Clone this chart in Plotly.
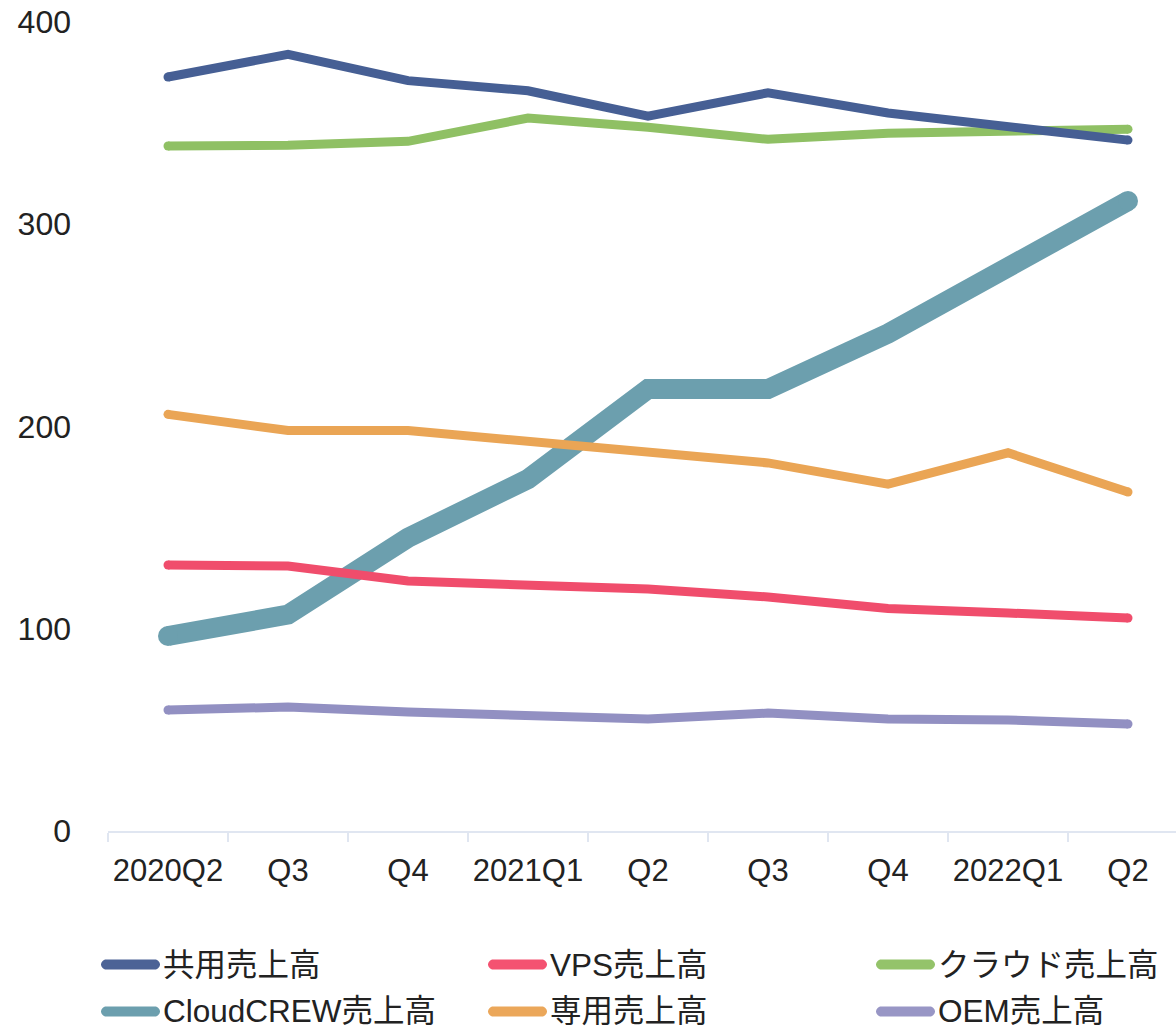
import plotly.graph_objects as go

categories = ["2020Q2", "2020Q3", "2020Q4", "2021Q1", "2021Q2", "2021Q3", "2021Q4", "2022Q1", "2022Q2"]
tick_labels = ["2020Q2", "Q3", "Q4", "2021Q1", "Q2", "Q3", "Q4", "2022Q1", "Q2"]

shared_sales = [372.8, 384.0, 371.0, 366.0, 353.5, 365.0, 355.0, 348.5, 341.6]
vps_sales = [131.5, 131.0, 123.6, 121.6, 119.6, 115.7, 110.0, 107.8, 105.3]
cloud_sales = [338.7, 339.0, 341.0, 352.5, 348.0, 342.0, 345.0, 346.0, 347.0]
cloudcrew_sales = [96.4, 107.0, 145.0, 174.0, 218.5, 218.5, 246.0, 278.0, 311.5]
dedicated_sales = [206.0, 198.0, 198.0, 193.0, 187.0, 182.0, 171.5, 187.0, 167.6]
oem_sales = [59.8, 61.3, 58.8, 57.4, 55.4, 58.3, 55.4, 54.9, 52.9]

series_names = ["共用売上高", "VPS売上高", "クラウド売上高", "CloudCREW売上高", "専用売上高", "OEM売上高"]
series_values = [shared_sales, vps_sales, cloud_sales, cloudcrew_sales, dedicated_sales, oem_sales]
colors = ["#465f94", "#f04d6c", "#8fc064", "#6c9fae", "#eaa555", "#9290c2"]
legend_colors = ["#4c6396", "#f45271", "#94c36a", "#6c9fae", "#eba75a", "#9896c5"]
widths = [9, 9, 9, 20, 9, 9]

FONT = "Liberation Sans, Arial, Noto Sans CJK JP, sans-serif"

fig = go.Figure()
draw_order = [3, 4, 1, 5, 2, 0]
for i in draw_order:
    n = len(categories)
    sizes = [widths[i]] + [0] * (n - 2) + [widths[i]]
    fig.add_trace(go.Scatter(
        x=categories, y=series_values[i], name=series_names[i], mode="lines+markers",
        line=dict(color=colors[i], width=widths[i]),
        marker=dict(color=colors[i], size=sizes, opacity=1, line=dict(width=0)),
        opacity=1, showlegend=False, hoverinfo="skip"))

# manual legend
L, W, T, H = 108, 1176 - 108, 22, 831 - 22
col_x = [101, 488, 876]
row_y = [964.5, 1011.5]
def px2paper_x(px):
    return (px - L) / W
def px2paper_y(py):
    return (T + H - py) / H
r = 5
sym_len = 59
path = (f"M {r},-{r} L {sym_len - r},-{r} C {sym_len - r + 2.76},-{r} {sym_len},-2.24 {sym_len},0 "
        f"C {sym_len},2.24 {sym_len - r + 2.76},{r} {sym_len - r},{r} L {r},{r} "
        f"C 2.24,{r} 0,2.24 0,0 C 0,-2.24 2.24,-{r} {r},-{r} Z")
for k, name in enumerate(series_names):
    cx = col_x[k % 3]
    cy = row_y[k // 3]
    fig.add_shape(type="path", xref="paper", yref="paper", xsizemode="pixel", ysizemode="pixel",
                  xanchor=px2paper_x(cx), yanchor=px2paper_y(cy), path=path,
                  fillcolor=legend_colors[k], line=dict(width=0), layer="above")
    fig.add_annotation(x=px2paper_x(cx + sym_len + 2), y=px2paper_y(cy), xref="paper", yref="paper",
                       text=name, showarrow=False, xanchor="left", yanchor="middle", borderpad=0,
                       font=dict(family=FONT, size=31.5, color="#222222"))

fig.update_layout(
    width=1176, height=1031,
    margin=dict(l=L, r=0, t=T, b=1031 - 831, pad=0),
    paper_bgcolor="white", plot_bgcolor="white",
    font=dict(family=FONT, size=30, color="#222222"),
    showlegend=False,
)
fig.update_xaxes(
    type="category", tickmode="array", tickvals=categories, ticktext=tick_labels,
    range=[-0.5, 8.4], showgrid=False, zeroline=False,
    showline=True, linecolor="#e0e6f1", linewidth=2,
    ticks="outside", ticklen=9, tickcolor="#e0e6f1", tickwidth=2, tickson="boundaries",
    ticklabelstandoff=11, tickangle=0,
    tickfont=dict(family=FONT, size=31, color="#222222"),
)
fig.update_yaxes(
    range=[0, 400], tickvals=[0, 100, 200, 300, 400], showgrid=False, zeroline=False,
    showline=False, ticks="", ticklabelstandoff=36,
    tickfont=dict(family=FONT, size=32, color="#222222"),
)

fig.write_html("out.html", config={"displayModeBar": False},
               post_script="document.body.style.margin='0';document.body.style.overflow='hidden';")
